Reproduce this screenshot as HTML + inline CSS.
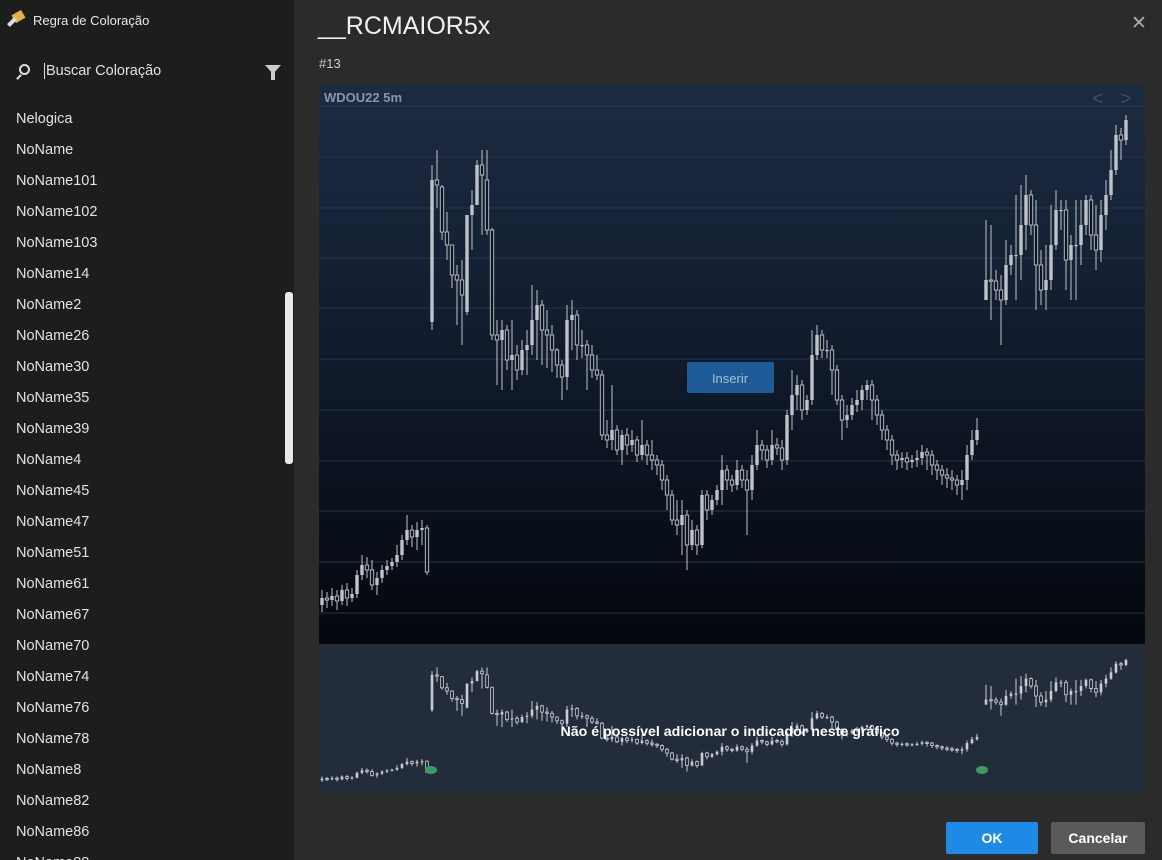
<!DOCTYPE html>
<html><head><meta charset="utf-8">
<style>
*{margin:0;padding:0;box-sizing:border-box}
html,body{width:1162px;height:860px;overflow:hidden}
body{background:#2b2b2b;font-family:"Liberation Sans",sans-serif;position:relative}
#left{position:absolute;left:0;top:0;width:294px;height:860px;background:#1d1d1d;overflow:hidden}
.item{position:absolute;left:16px;font-size:14.5px;color:#e2e2e2}
#title{position:absolute;left:318px;top:12px;font-size:25px;color:#f0f0f0}
#sub{position:absolute;left:319px;top:56px;font-size:13px;color:#ccc}
#close{position:absolute;left:1131px;top:12px;font-size:19px;color:#aaa}
.btn{position:absolute;top:822px;height:32px;font-size:14px;font-weight:bold;color:#fff;text-align:center;line-height:32px;border-radius:2px}
</style></head><body>
<div id="left">
  <div style="position:absolute;left:5px;top:12px;width:20px;height:18px">
    <div style="position:absolute;left:8px;top:0;width:11px;height:9px;background:#e0b24a;transform:rotate(-30deg)"></div>
    <div style="position:absolute;left:2px;top:8px;width:10px;height:4px;background:#ddd;transform:rotate(-45deg)"></div>
  </div>
  <div style="position:absolute;left:33px;top:13px;font-size:13px;color:#e8e8e8">Regra de Coloração</div>
  <div style="position:absolute;left:19px;top:64px;width:11px;height:11px;border:2px solid #ddd;border-radius:50%"></div>
  <div style="position:absolute;left:16px;top:76px;width:6px;height:2px;background:#ddd;transform:rotate(-45deg)"></div>
  <div style="position:absolute;left:44px;top:63px;font-size:14.5px;color:#e0e0e0;border-left:1px solid #ddd;padding-left:1px">Buscar Coloração</div>
  <div style="position:absolute;left:265px;top:65px;width:0;height:0;border-left:8px solid transparent;border-right:8px solid transparent;border-top:9px solid #ccc"></div>
  <div style="position:absolute;left:271px;top:72px;width:4px;height:8px;background:#ccc"></div>
  <div style="position:absolute;left:285px;top:292px;width:8px;height:172px;background:#e8e8e8;border-radius:3px"></div>
  <div id="list"></div>
</div>
<div id="title">__RCMAIOR5x</div>
<div id="sub">#13</div>
<div id="close">✕</div>
<svg id="chart" style="position:absolute;left:0;top:0" width="1162" height="860">
  <defs>
    <linearGradient id="bg" x1="0" y1="0" x2="0" y2="1">
      <stop offset="0" stop-color="#1d2b42"/><stop offset="0.5" stop-color="#101a2b"/><stop offset="1" stop-color="#04070d"/>
    </linearGradient>
  </defs>
  <rect x="319" y="85" width="826" height="559" fill="url(#bg)"/>
  <rect x="319" y="645" width="826" height="148" fill="#222c3b"/>
  <g id="grid"></g>
  <g id="candles"></g>
  <g id="mini"></g>
  <text x="324" y="102" font-family="Liberation Sans" font-size="13" font-weight="bold" fill="#8a96a8">WDOU22 5m</text>
  <text x="1092" y="105" font-family="Liberation Sans" font-size="20" fill="#3e4b60">&lt;</text>
  <text x="1120" y="105" font-family="Liberation Sans" font-size="20" fill="#3e4b60">&gt;</text>
  <rect x="687" y="362" width="87" height="31" rx="2" fill="#1f5b96"/>
  <text x="730" y="383" text-anchor="middle" font-family="Liberation Sans" font-size="13" fill="#a8bdd4">Inserir</text>
  <ellipse cx="431" cy="770" rx="6" ry="4" fill="#3d9a63"/>
  <ellipse cx="982" cy="770" rx="6" ry="4" fill="#3d9a63"/>
  <text x="730" y="736" text-anchor="middle" font-family="Liberation Sans" font-size="14.2" font-weight="bold" fill="#ffffff">Não é possível adicionar o indicador neste gráfico</text>
</svg>
<div class="btn" style="left:946px;width:92px;background:#1f8ae6">OK</div>
<div class="btn" style="left:1051px;width:94px;background:#5a5a5a">Cancelar</div>
<script>
const ruleNames=["Nelogica","NoName","NoName101","NoName102","NoName103","NoName14","NoName2","NoName26","NoName30","NoName35","NoName39","NoName4","NoName45","NoName47","NoName51","NoName61","NoName67","NoName70","NoName74","NoName76","NoName78","NoName8","NoName82","NoName86","NoName88"];
const opens=[395,402,400,404,399,410,402,406,425,435,430,415,422,430,434,438,445,460,470,463,470,472,
678,820,813,768,755,725,720,688,785,795,835,820,770,665,660,670,640,645,630,650,
655,680,695,670,665,650,635,623,680,685,655,655,645,630,625,565,560,570,550,565,
555,560,545,555,545,540,535,520,505,480,475,485,455,470,455,505,490,500,510,530,
520,515,530,520,510,535,555,550,540,555,552,540,585,605,615,590,600,645,665,650,
650,630,600,580,585,595,600,610,615,600,585,570,560,545,540,542,538,540,542,548,
545,535,530,525,522,520,515,520,545,560,700,720,719,710,700,735,745,745,775,805,
775,735,710,720,755,790,790,740,755,755,775,800,765,750,785,805,830,865,860];
const closes=[402,400,404,399,410,402,406,425,435,430,415,422,430,434,438,445,460,470,463,470,472,428,
820,815,768,755,725,720,705,785,795,835,825,770,665,660,670,640,645,630,650,655,
680,695,670,665,650,635,623,680,685,655,655,645,630,625,565,560,570,550,565,555,
560,545,555,545,540,535,520,505,480,475,485,455,470,455,505,490,500,510,530,520,
515,530,520,510,535,555,550,540,555,552,540,585,605,615,590,600,645,665,650,650,
630,600,580,585,595,600,610,615,600,585,570,560,545,540,542,538,540,542,548,545,
535,530,525,522,520,515,520,545,560,570,720,719,710,700,735,745,745,775,805,775,
735,710,720,755,790,790,740,755,755,775,800,765,750,785,805,830,865,860,880];
const highs=[410,408,412,410,415,417,412,430,445,443,440,428,435,440,442,455,465,485,475,478,480,475,
835,850,815,788,755,735,740,785,810,840,850,850,772,680,680,675,680,655,660,670,
715,710,700,690,675,652,640,695,700,690,670,660,655,645,630,580,615,575,570,572,
570,564,580,560,560,545,540,525,510,500,500,490,480,475,510,510,505,515,545,535,
525,540,535,530,545,570,560,555,570,562,560,590,630,625,620,605,670,675,670,660,
655,635,605,595,602,610,615,620,620,605,590,575,565,550,548,548,545,550,555,552,
550,540,535,532,530,525,530,555,570,582,780,775,730,725,760,755,805,815,825,810,
800,750,755,795,810,800,800,765,800,800,805,805,795,800,820,850,875,872,885];
const lows=[388,392,394,390,395,394,398,402,420,422,410,405,417,425,430,433,440,455,453,450,455,425,
670,792,760,740,712,675,655,685,750,795,765,765,660,615,610,630,610,620,625,625,
645,640,635,632,628,622,600,610,650,640,642,610,622,620,560,552,550,545,535,545,
548,538,540,535,530,525,510,490,475,465,445,430,450,445,452,480,485,495,495,510,
508,510,512,465,500,530,540,532,535,545,530,535,570,590,580,585,595,640,642,642,
605,595,560,572,580,588,590,600,580,575,560,550,535,530,532,530,532,533,535,530,
525,520,515,512,510,505,500,510,540,555,700,680,700,655,695,725,700,720,750,765,
690,695,690,710,750,770,710,700,700,735,765,750,730,738,770,800,825,840,855];
const gridLevels=[894,843,792,742,692,641,590,539,489,438,387];

const list=document.getElementById('list');
ruleNames.forEach((n,i)=>{const d=document.createElement('div');d.className='item';d.style.top=(111+i*31)+'px';d.textContent=n;


list.appendChild(d);});

const NS='http://www.w3.org/2000/svg';
const pMax=910,pMin=360,yTop=90,yBot=640;
function y(p){return yTop+(pMax-p)*(yBot-yTop)/(pMax-pMin);}
function yMini(p){return 660+(880-p)*0.248;}
function x(i){return i<132?322+i*5:326+i*5;}
const grid=document.getElementById('grid');
gridLevels.forEach(g=>{const l=document.createElementNS(NS,'line');
l.setAttribute('x1',319);l.setAttribute('x2',1145);l.setAttribute('y1',y(g));l.setAttribute('y2',y(g));
l.setAttribute('stroke','#26344a');l.setAttribute('stroke-width','1');


grid.appendChild(l);});
function draw(gid,ys,bw,name){
  const g=document.getElementById(gid);
  closes.forEach((c,i)=>{
    const o=opens[i],cx=x(i),col=ys===y?'#bfc3c9':'#c9cdd3';
    const w=document.createElementNS(NS,'line');
    w.setAttribute('x1',cx);w.setAttribute('x2',cx);w.setAttribute('y1',ys(highs[i]));w.setAttribute('y2',ys(lows[i]));
    w.setAttribute('stroke',col);w.setAttribute('stroke-width','1');
    
    
    g.appendChild(w);
    const r=document.createElementNS(NS,'rect');
    const top=Math.min(ys(o),ys(c)),h=Math.max(1.2,Math.abs(ys(o)-ys(c)));
    r.setAttribute('x',cx-bw/2);r.setAttribute('y',top);r.setAttribute('width',bw);r.setAttribute('height',h);
    if(c>=o){r.setAttribute('fill',col);}else{r.setAttribute('fill','#0d1522');r.setAttribute('stroke',col);r.setAttribute('stroke-width','0.9');}
    
    
    g.appendChild(r);
  });
}
draw('candles',y,3.4,'candle');
draw('mini',yMini,2.6,'mini-candle');
</script>
</body></html>
